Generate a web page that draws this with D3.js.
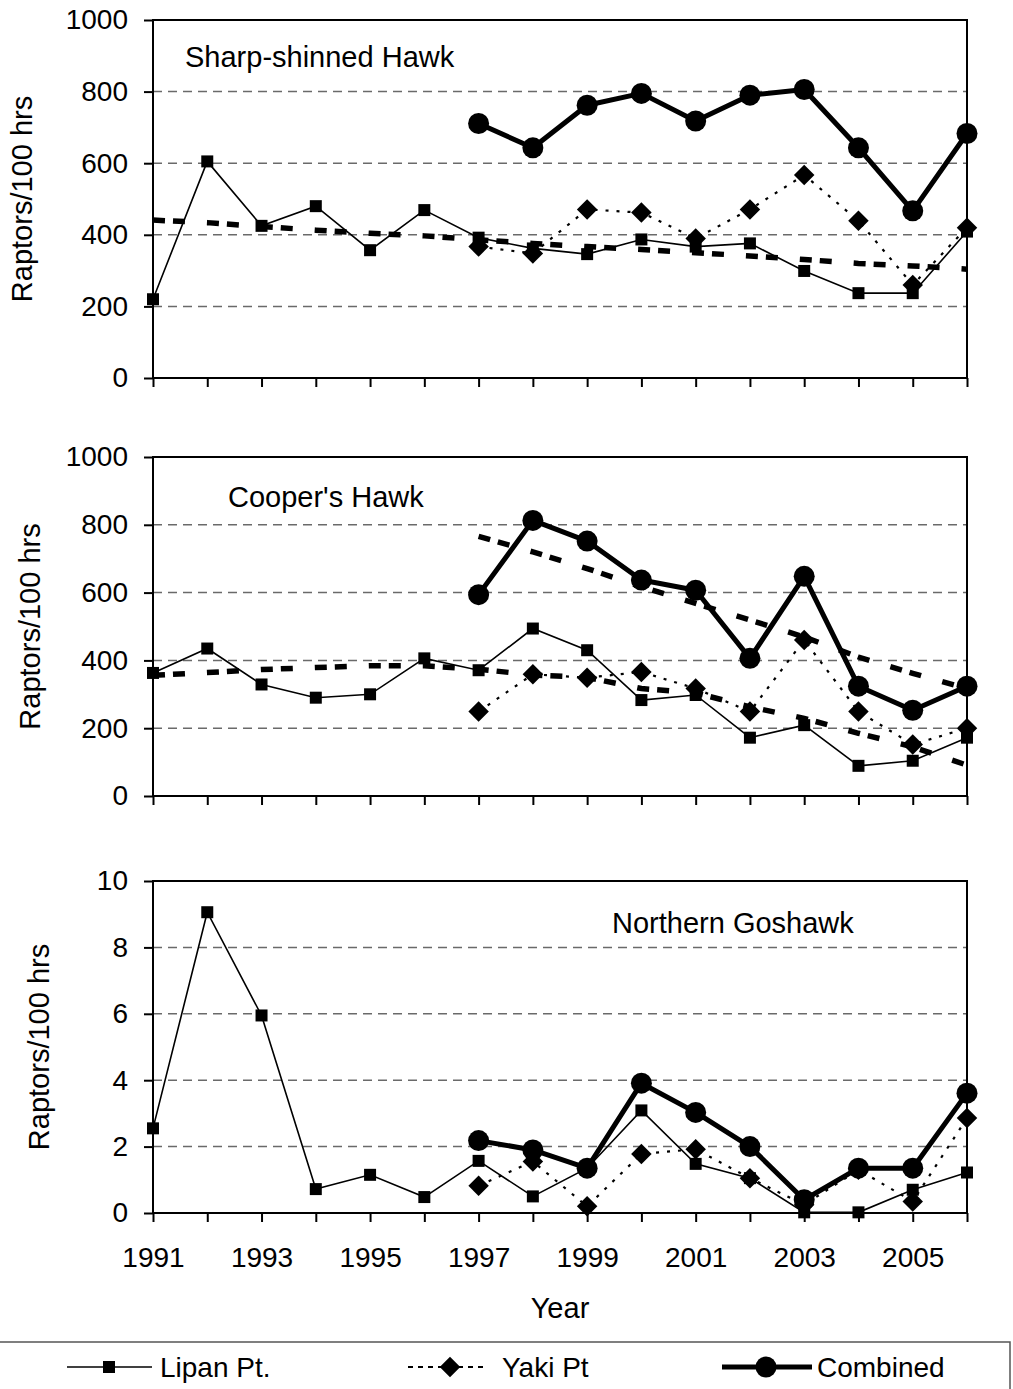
<!DOCTYPE html>
<html lang="en">
<head>
<meta charset="utf-8">
<title>Raptors per 100 hrs</title>
<script src="https://d3js.org/d3.v7.min.js"></script>
<style>
  body { margin: 0; background: #fff; }
  svg text { font-family: "Liberation Sans", Arial, sans-serif; fill: #000; }
</style>
</head>
<body>
<svg id="chart" width="1013" height="1389"></svg>
<script>
// years on the x axis
var years = [1991,1992,1993,1994,1995,1996,1997,1998,1999,2000,2001,2002,2003,2004,2005,2006];
var yearLabels = [1991,1993,1995,1997,1999,2001,2003,2005];

// Sharp-shinned Hawk
var sharpLipan    = [220,605,425,480,357,469,392,362,346,387,367,376,299,237,237,409];
var sharpYaki     = [null,null,null,null,null,null,367,348,471,462,390,471,567,439,260,420];
var sharpCombined = [null,null,null,null,null,null,711,643,762,795,718,790,806,643,467,683];
var sharpLipanTrend = [441,434,423,413,404,397,386,376,367,359,350,341,331,320,313,304];

// Cooper's Hawk
var coopLipan    = [363,435,329,290,300,406,371,494,430,283,298,172,209,89,104,172];
var coopYaki     = [null,null,null,null,null,null,249,359,349,366,317,249,460,249,152,200];
var coopCombined = [null,null,null,null,null,null,594,813,752,637,607,406,648,324,253,324];
var coopLipanTrend    = [356,364,373,379,384,384,374,357,350,317,304,263,229,185,145,91];
var coopCombinedTrend = [null,null,null,null,null,null,766,720,671,617,568,519,469,410,362,317];

// Northern Goshawk
var goshLipan    = [2.55,9.06,5.95,0.72,1.15,0.48,1.57,0.5,1.35,3.09,1.48,1.05,0.02,0.02,0.7,1.22];
var goshYaki     = [null,null,null,null,null,null,0.82,1.55,0.2,1.78,1.92,1.05,0.25,1.3,0.35,2.86];
var goshCombined = [null,null,null,null,null,null,2.18,1.9,1.35,3.91,3.03,2.0,0.4,1.35,1.35,3.61];

var panels = [
  { title: "Sharp-shinned Hawk", tx: 185, ty: 67, top: 20, bottom: 378, max: 1000, ticks: [0,200,400,600,800,1000], ytx: 32,
    lipan: sharpLipan, yaki: sharpYaki, comb: sharpCombined, trends: [sharpLipanTrend] },
  { title: "Cooper's Hawk", tx: 228, ty: 507, top: 457, bottom: 796, max: 1000, ticks: [0,200,400,600,800,1000], ytx: 40,
    lipan: coopLipan, yaki: coopYaki, comb: coopCombined, trends: [coopLipanTrend, coopCombinedTrend] },
  { title: "Northern Goshawk", tx: 612, ty: 933, top: 881, bottom: 1213, max: 10, ticks: [0,2,4,6,8,10], ytx: 49,
    lipan: goshLipan, yaki: goshYaki, comb: goshCombined, trends: [], last: true }
];

var svg = d3.select("#chart");
var left = 153, right = 967;
var x = d3.scaleLinear().domain([1991, 2006]).range([left, right]);

var square = d3.symbol().type(d3.symbolSquare).size(144);
var diamond = d3.symbol().type(d3.symbolSquare).size(210);
var circle = d3.symbol().type(d3.symbolCircle).size(Math.PI * 10.5 * 10.5);

function pts(vals) {
  return years.map(function (yr, i) { return { yr: yr, v: vals[i] }; })
              .filter(function (d) { return d.v != null; });
}

panels.forEach(function (p) {
  var y = d3.scaleLinear().domain([0, p.max]).range([p.bottom, p.top]);
  var g = svg.append("g");

  // grid lines
  g.selectAll("line.grid").data(p.ticks.slice(1, -1)).enter().append("line")
    .attr("x1", left).attr("x2", right)
    .attr("y1", function (d) { return y(d); }).attr("y2", function (d) { return y(d); })
    .attr("stroke", "#6a6a6a").attr("stroke-width", 1.5).attr("stroke-dasharray", "9,6");

  // frame
  g.append("rect").attr("x", left).attr("y", p.top)
    .attr("width", right - left).attr("height", p.bottom - p.top)
    .attr("fill", "none").attr("stroke", "#000").attr("stroke-width", 2);

  // y axis
  var ya = g.append("g").attr("transform", "translate(" + left + ",0)")
    .call(d3.axisLeft(y).tickValues(p.ticks).tickFormat(d3.format("d"))
      .tickSize(9).tickSizeOuter(0).tickPadding(16));
  ya.select(".domain").remove();
  ya.selectAll("line").attr("stroke", "#000").attr("stroke-width", 2);
  ya.selectAll("text").style("font-size", "28px").style("font-family", "Liberation Sans, Arial");

  // x axis
  var xa = g.append("g").attr("transform", "translate(0," + p.bottom + ")")
    .call(d3.axisBottom(x).tickValues(years).tickSize(9).tickSizeOuter(0).tickPadding(25)
      .tickFormat(function (d) { return (p.last && yearLabels.indexOf(d) >= 0) ? String(d) : ""; }));
  xa.select(".domain").remove();
  xa.selectAll("line").attr("stroke", "#000").attr("stroke-width", 2);
  xa.selectAll("text").style("font-size", "28px").style("font-family", "Liberation Sans, Arial");

  // y title
  g.append("text")
    .attr("transform", "translate(" + p.ytx + "," + ((p.top + p.bottom) / 2) + ") rotate(-90)")
    .attr("text-anchor", "middle").style("font-size", "29px")
    .text("Raptors/100 hrs");

  // panel title
  g.append("text").attr("x", p.tx).attr("y", p.ty).style("font-size", "29px").text(p.title);

  var line = d3.line().x(function (d) { return x(d.yr); }).y(function (d) { return y(d.v); });

  // trend lines
  p.trends.forEach(function (t) {
    g.append("path").datum(pts(t)).attr("d", line)
      .attr("fill", "none").attr("stroke", "#000").attr("stroke-width", 5.5)
      .attr("stroke-dasharray", "12,8,12,22");
  });

  // Lipan Pt.
  var lp = pts(p.lipan);
  g.append("path").datum(lp).attr("d", line)
    .attr("fill", "none").attr("stroke", "#000").attr("stroke-width", 1.6);
  g.selectAll("path.sq").data(lp).enter().append("path").attr("class", "sq")
    .attr("d", square).attr("transform", function (d) { return "translate(" + x(d.yr) + "," + y(d.v) + ")"; });

  // Yaki Pt
  var yk = pts(p.yaki);
  g.append("path").datum(yk).attr("d", line)
    .attr("fill", "none").attr("stroke", "#000").attr("stroke-width", 2.2)
    .attr("stroke-dasharray", "3,8");
  g.selectAll("path.dm").data(yk).enter().append("path").attr("class", "dm")
    .attr("d", diamond).attr("transform", function (d) { return "translate(" + x(d.yr) + "," + y(d.v) + ") rotate(45)"; });

  // Combined
  var cb = pts(p.comb);
  g.append("path").datum(cb).attr("d", line)
    .attr("fill", "none").attr("stroke", "#000").attr("stroke-width", 5).attr("stroke-linejoin", "round");
  g.selectAll("path.ci").data(cb).enter().append("path").attr("class", "ci")
    .attr("d", circle).attr("transform", function (d) { return "translate(" + x(d.yr) + "," + y(d.v) + ")"; });
});

// x title
svg.append("text").attr("x", (left + right) / 2).attr("y", 1318)
  .attr("text-anchor", "middle").style("font-size", "29px").text("Year");

// legend
var lg = svg.append("g");
lg.append("rect").attr("x", -2).attr("y", 1342).attr("width", 1012).attr("height", 60)
  .attr("fill", "none").attr("stroke", "#555").attr("stroke-width", 1.5);
var ly = 1367;
lg.append("line").attr("x1", 67).attr("x2", 152).attr("y1", ly).attr("y2", ly)
  .attr("stroke", "#000").attr("stroke-width", 1.6);
lg.append("path").attr("d", square).attr("transform", "translate(109," + ly + ")");
lg.append("text").attr("x", 160).attr("y", 1377).style("font-size", "28px").text("Lipan Pt.");

lg.append("line").attr("x1", 408).attr("x2", 484).attr("y1", ly).attr("y2", ly)
  .attr("stroke", "#000").attr("stroke-width", 2).attr("stroke-dasharray", "5,5");
lg.append("path").attr("d", diamond).attr("transform", "translate(450," + ly + ") rotate(45)");
lg.append("text").attr("x", 502).attr("y", 1377).style("font-size", "28px").text("Yaki Pt");

lg.append("line").attr("x1", 722).attr("x2", 812).attr("y1", ly).attr("y2", ly)
  .attr("stroke", "#000").attr("stroke-width", 5);
lg.append("path").attr("d", circle).attr("transform", "translate(766," + ly + ")");
lg.append("text").attr("x", 817).attr("y", 1377).style("font-size", "28px").text("Combined");
</script>
</body>
</html>
